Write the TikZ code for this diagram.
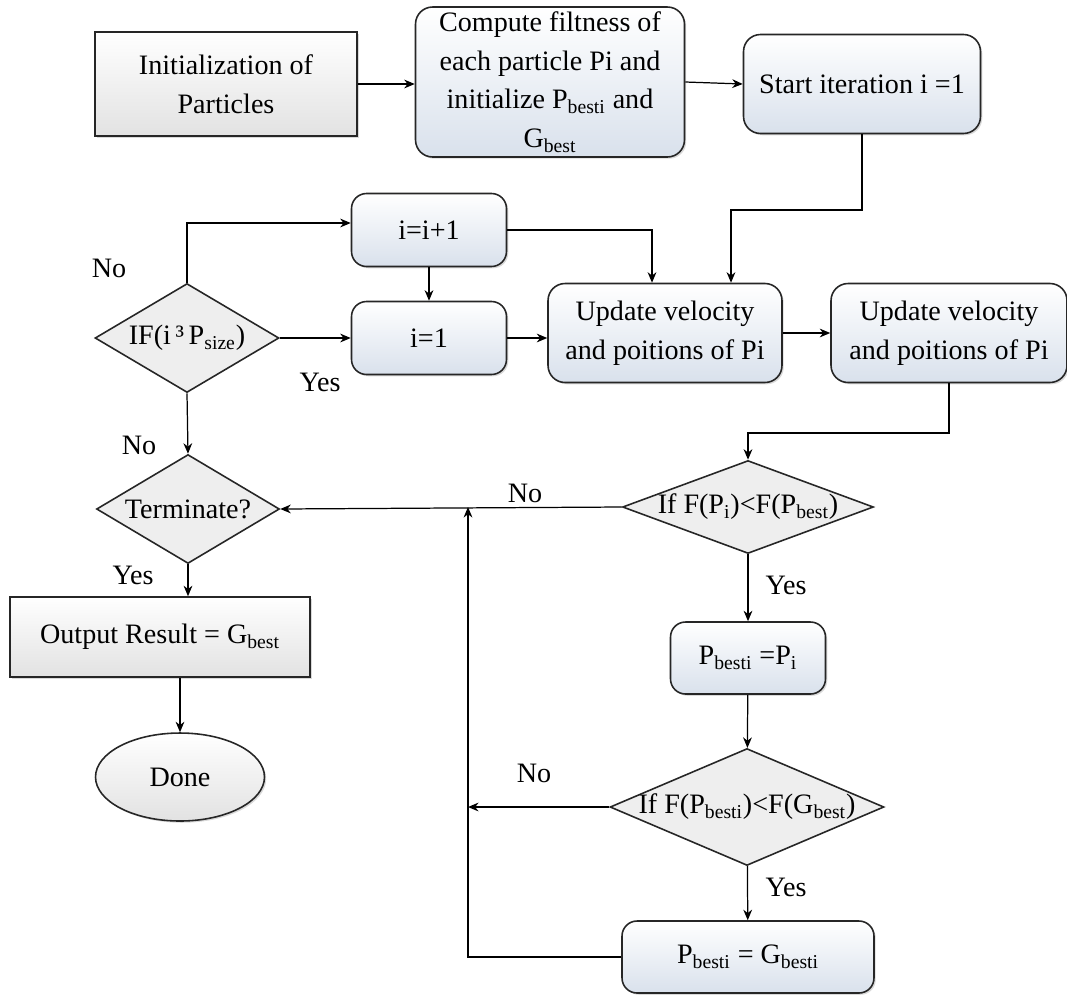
\documentclass[tikz,border=0pt]{standalone}
\usepackage{fontspec}
\setmainfont{Liberation Serif}
\usetikzlibrary{arrows.meta, shapes.geometric, shadows}

\definecolor{boxblue}{HTML}{D9E1EC}
\definecolor{boxgray}{HTML}{E2E2E2}
\definecolor{decgray}{HTML}{EEEEEE}

\begin{document}
\begin{tikzpicture}[
  x=0.02cm, y=-0.02cm,
  every node/.style={font=\fontsize{16}{22}\selectfont},
  sqbox/.style={draw=black!85, line width=0.9pt, align=center, inner sep=2pt,
    top color=white, bottom color=boxgray,
    drop shadow={shadow xshift=1pt, shadow yshift=-1pt, opacity=0.3}},
  rbox/.style={sqbox, rounded corners=0.34cm, bottom color=boxblue},
  decision/.style={diamond, draw=black!85, line width=0.9pt, fill=decgray, inner sep=0pt},
  stopnode/.style={ellipse, draw=black!85, line width=0.9pt, inner sep=0pt,
    top color=white, bottom color=boxgray,
    drop shadow={shadow xshift=1pt, shadow yshift=-1pt, opacity=0.3}},
  arr/.style={-{Stealth[length=6pt, width=5pt]}, line width=0.7pt}
]
  \useasboundingbox (0,0) rectangle (1067,998);

  % Top row
  \node[sqbox, minimum width=5.24cm, minimum height=2.08cm] (init) at (226,84)
    {Initialization of\\Particles};
  \node[rbox, minimum width=5.38cm, minimum height=3cm] (compute) at (550,82)
    {Compute filtness of\\each particle Pi and\\initialize P\textsubscript{besti} and\\G\textsubscript{best}};
  \node[rbox, minimum width=4.74cm, minimum height=1.98cm] (start) at (862,84)
    {Start iteration i =1};

  % Iteration counter
  \node[rbox, rounded corners=0.3cm, minimum width=3.1cm, minimum height=1.46cm] (inc) at (429,230) {i=i+1};
  \node[rbox, rounded corners=0.3cm, minimum width=3.1cm, minimum height=1.46cm] (reset) at (429,338) {i=1};
  \node[decision, minimum width=3.68cm, minimum height=2.18cm,
    label=center:{IF(i\,³\,P\textsubscript{size})}] (ifsize) at (187,338) {};

  % Updates
  \node[rbox, minimum width=4.68cm, minimum height=1.98cm] (upd1) at (665,333)
    {Update velocity\\and poitions of Pi};
  \node[rbox, minimum width=4.72cm, minimum height=1.98cm] (upd2) at (949,333)
    {Update velocity\\and poitions of Pi};

  % Termination branch
  \node[decision, minimum width=3.66cm, minimum height=2.18cm,
    label=center:{Terminate?}] (term) at (188,509) {};
  \node[sqbox, minimum width=6cm, minimum height=1.6cm] (output) at (160,637)
    {Output Result = G\textsubscript{best}};
  \node[stopnode, minimum width=3.38cm, minimum height=1.76cm] (done) at (180,777) {Done};

  % Best checks
  \node[decision, minimum width=5.02cm, minimum height=1.86cm,
    label=center:{If F(P\textsubscript{i})<F(P\textsubscript{best})}] (ifP) at (748,507) {};
  \node[rbox, rounded corners=0.3cm, minimum width=3.1cm, minimum height=1.44cm] (pbest) at (748,658)
    {P\textsubscript{besti} =P\textsubscript{i}};
  \node[decision, minimum width=5.48cm, minimum height=2.34cm,
    label=center:{If F(P\textsubscript{besti})<F(G\textsubscript{best})}] (ifG) at (747,807) {};
  \node[rbox, rounded corners=0.3cm, minimum width=5.04cm, minimum height=1.44cm] (pg) at (748,957)
    {P\textsubscript{besti} = G\textsubscript{besti}};

  % Helper points
  \coordinate (s1) at (731,210);
  \coordinate (p1) at (748,433);
  \coordinate (back) at (468,507);

  % Connectors
  \draw[arr] (init.east) -- (init.east -| compute.west);
  \draw[arr] (compute.east) -- (start.west);
  \draw[arr] (start.south) |- (s1) -- (s1 |- upd1.north);
  \draw[arr] (inc.east) -| ([xshift=-0.26cm]upd1.north);
  \draw[arr] (inc) -- (reset);
  \draw[arr] (ifsize.east) -- (reset.west);
  \draw[arr] (reset.east) -- (reset.east -| upd1.west);
  \draw[arr] (upd1) -- (upd2);
  \draw[arr] (ifsize.north) |- ([yshift=0.14cm]inc.west);
  \draw[arr] (ifsize.south) -- (term.north);
  \draw[arr] (term.south) -- (term.south |- output.north);
  \draw[arr] (done.north |- output.south) -- (done.north);
  \draw[arr] (upd2.south) |- (p1) -- (ifP.north);
  \draw[arr] (ifP.west) -- (term.east);
  \draw[arr] (ifP) -- (pbest);
  \draw[arr] (pbest) -- (ifG);
  \draw[arr] (ifG) -- (pg);
  \draw[arr] (ifG.west) -- (ifG.west -| back);
  \draw[arr] (pg.west) -| (back);

  % Branch labels
  \node (no1) at (109,268) {No};
  \node (yes1) at (320,382) {Yes};
  \node (no2) at (139,445) {No};
  \node (yes2) at (133,575) {Yes};
  \node (no3) at (525,493) {No};
  \node (yes3) at (786,585) {Yes};
  \node (no4) at (534,773) {No};
  \node (yes4) at (786,887) {Yes};
\end{tikzpicture}
\end{document}
